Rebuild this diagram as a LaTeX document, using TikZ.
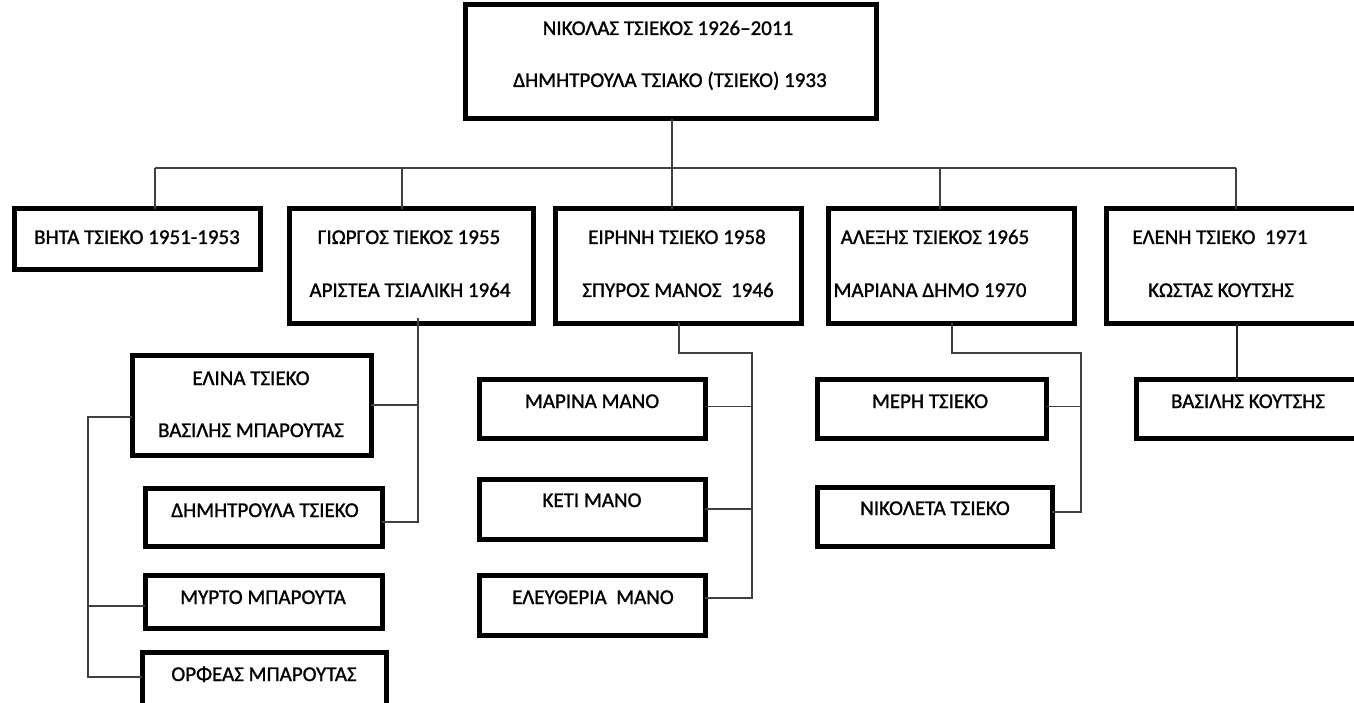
\documentclass[tikz,border=0pt]{standalone}
\usepackage{fontspec}
\setmainfont{Carlito}[FakeBold=1.2]
\begin{document}
\begin{tikzpicture}[x=1pt,y=-1pt,
  box/.style={draw=black, line width=5pt, inner sep=0pt, outer sep=0pt, fill=white},
  lbl/.style={font=\fontsize{21}{25}\selectfont, anchor=base, inner sep=0pt, text=black},
  link/.style={draw=black!75, line width=1.6pt},
  thicklink/.style={draw=black!85, line width=2.4pt}]
\clip (0,0) rectangle (1354,703);
\useasboundingbox (0,0) rectangle (1354,703);

% parents
\node[box, minimum width=411, minimum height=114] (top) at (670.5,62) {};
\node[lbl] (top-a) at (668,35) {ΝΙΚΟΛΑΣ ΤΣΙΕΚΟΣ 1926–2011};
\node[lbl] (top-b) at (670,87) {ΔΗΜΗΤΡΟΥΛΑ ΤΣΙΑΚΟ (ΤΣΙΕΚΟ) 1933};

% children row
\node[box, minimum width=246, minimum height=61]  (bhta)   at (137,239.5) {};
\node[box, minimum width=244, minimum height=114] (giorgos) at (411,266) {};
\node[box, minimum width=246, minimum height=114] (eirini) at (678,266) {};
\node[box, minimum width=246, minimum height=114] (alexis) at (951,266) {};
\node[box, minimum width=250, minimum height=114] (eleni)  at (1231,266) {};

\node[lbl] (bhta-a) at (137,244) {ΒΗΤΑ ΤΣΙΕΚΟ 1951-1953};
\node[lbl] (giorgos-a) at (409,244) {ΓΙΩΡΓΟΣ ΤΙΕΚΟΣ 1955};
\node[lbl] (giorgos-b) at (410,297) {ΑΡΙΣΤΕΑ ΤΣΙΑΛΙΚΗ 1964};
\node[lbl] (eirini-a) at (677,244) {ΕΙΡΗΝΗ ΤΣΙΕΚΟ 1958};
\node[lbl] (eirini-b) at (678,297) {ΣΠΥΡΟΣ ΜΑΝΟΣ\ \ 1946};
\node[lbl] (alexis-a) at (935,244) {ΑΛΕΞΗΣ ΤΣΙΕΚΟΣ 1965};
\node[lbl] (alexis-b) at (930,297) {ΜΑΡΙΑΝΑ ΔΗΜΟ 1970};
\node[lbl] (eleni-a) at (1220,244) {ΕΛΕΝΗ ΤΣΙΕΚΟ\ \ 1971};
\node[lbl] (eleni-b) at (1221,297) {ΚΩΣΤΑΣ ΚΟΥΤΣΗΣ};

% grandchildren of Giorgos
\node[box, minimum width=239, minimum height=100] (elina) at (251.5,405) {};
\node[box, minimum width=237, minimum height=58]  (dimitroula) at (263.5,517) {};
\node[box, minimum width=237, minimum height=53]  (myrto) at (263.5,601.5) {};
\node[box, minimum width=244, minimum height=60]  (orfeas) at (264,682) {};
\node[lbl] (elina-a) at (251,385) {ΕΛΙΝΑ ΤΣΙΕΚΟ};
\node[lbl] (elina-b) at (251,437) {ΒΑΣΙΛΗΣ ΜΠΑΡΟΥΤΑΣ};
\node[lbl] (dimitroula-a) at (265,517) {ΔΗΜΗΤΡΟΥΛΑ ΤΣΙΕΚΟ};
\node[lbl] (myrto-a) at (263,604) {ΜΥΡΤΟ ΜΠΑΡΟΥΤΑ};
\node[lbl] (orfeas-a) at (264,681) {ΟΡΦΕΑΣ ΜΠΑΡΟΥΤΑΣ};

% grandchildren of Eirini
\node[box, minimum width=226, minimum height=59] (marina) at (592,408.5) {};
\node[box, minimum width=226, minimum height=60] (keti) at (592,509) {};
\node[box, minimum width=226, minimum height=60] (eleftheria) at (592,605) {};
\node[lbl] (marina-a) at (592,408) {ΜΑΡΙΝΑ ΜΑΝΟ};
\node[lbl] (keti-a) at (592,507) {ΚΕΤΙ ΜΑΝΟ};
\node[lbl] (eleftheria-a) at (593,604) {ΕΛΕΥΘΕΡΙΑ\ \ ΜΑΝΟ};

% grandchildren of Alexis
\node[box, minimum width=229, minimum height=59] (meri) at (931.5,408.5) {};
\node[box, minimum width=235, minimum height=59] (nikoleta) at (934.5,516.5) {};
\node[lbl] (meri-a) at (930,408) {ΜΕΡΗ ΤΣΙΕΚΟ};
\node[lbl] (nikoleta-a) at (935,515) {ΝΙΚΟΛΕΤΑ ΤΣΙΕΚΟ};

% grandchild of Eleni
\node[box, minimum width=224, minimum height=59] (vasilis) at (1248,408.5) {};
\node[lbl] (vasilis-a) at (1248,408) {ΒΑΣΙΛΗΣ ΚΟΥΤΣΗΣ};

% bus between parents and children
\coordinate (j1) at (155,168);
\coordinate (j2) at (402,168);
\coordinate (j3) at (672,168);
\coordinate (j4) at (940,168);
\coordinate (j5) at (1236,168);
\draw[link] (j1) -- (j5);
\draw[link] (j3 |- top.south) -- (j3);
\draw[link] (j1) -- (j1 |- bhta.north);
\draw[link] (j2) -- (j2 |- giorgos.north);
\draw[link] (j3) -- (j3 |- eirini.north);
\draw[link] (j4) -- (j4 |- alexis.north);
\draw[link] (j5) -- (j5 |- eleni.north);

% Giorgos' family
\coordinate (gx) at (418,318);
\coordinate (gb) at (418,522);
\draw[link] (gx) -- (gb) -- (gb -| dimitroula.east);
\draw[link] (elina.east) -- (elina.east -| gx);

% Elina's family
\coordinate (ew) at ([yshift=-12pt]elina.west);
\coordinate (lb) at (88,677);
\draw[link] (ew) -| (lb) -- (lb -| orfeas.west);
\draw[link] (lb |- 0,606) -- (myrto.west |- 0,606);

% Eirini's family
\coordinate (ex) at (679,353);
\coordinate (ec) at (752,353);
\coordinate (ee) at ([yshift=7pt]eleftheria.east);
\draw[link] (ex |- eirini.south) -- (ex) -- (ec) -- (ec |- ee) -- (ee);
\draw[link] ([yshift=2pt]marina.east) -- ([yshift=2pt]marina.east -| ec);
\draw[link] (keti.east) -- (keti.east -| ec);

% Alexis' family
\coordinate (ax) at (952,353);
\coordinate (ac) at (1081,353);
\coordinate (ne) at ([yshift=4.5pt]nikoleta.east);
\draw[link] (ax |- alexis.south) -- (ax) -- (ac) -- (ac |- ne) -- (ne);
\draw[link] ([yshift=2pt]meri.east) -- ([yshift=2pt]meri.east -| ac);

% Eleni's family
\coordinate (lx) at (1237,353);
\draw[thicklink] (lx |- eleni.south) -- (lx |- vasilis.north);
\end{tikzpicture}
\end{document}
